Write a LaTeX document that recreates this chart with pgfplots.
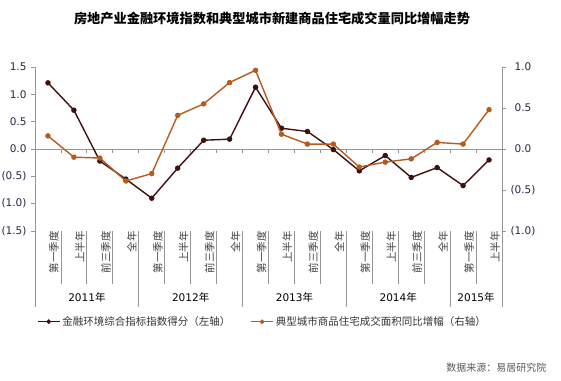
\documentclass[border=0pt]{standalone}
\usepackage{fontspec}
\setmainfont{DejaVu Sans}
\newfontfamily\cjk{Noto Sans CJK SC}
\usepackage{pgfplots}
\usepackage{pgfplotstable}
\pgfplotsset{compat=1.18}
\definecolor{darkser}{RGB}{64,16,16}
\definecolor{orangeser}{RGB}{181,91,31}
\definecolor{axgray}{RGB}{150,150,150}
\definecolor{ticklab}{RGB}{35,40,65}

\pgfplotstableread{
x a b
0 1.21 0.16
1 0.71 -0.10
2 -0.22 -0.11
3 -0.55 -0.39
4 -0.90 -0.30
5 -0.35 0.41
6 0.16 0.55
7 0.18 0.81
8 1.13 0.96
9 0.38 0.18
10 0.32 0.06
11 -0.01 0.06
12 -0.40 -0.22
13 -0.12 -0.16
14 -0.52 -0.12
15 -0.34 0.08
16 -0.67 0.06
17 -0.20 0.48
}\datatable

\tikzset{
  catlab/.style={rotate=90, anchor=east, yshift=-6pt, font=\cjk\fontsize{10.5}{12}\selectfont, text=black!75, inner sep=0pt},
  yearlab/.style={yshift=-66.7pt, font=\fontsize{10.5}{12}\selectfont, text=black, inner sep=0pt},
  sepline/.style={axgray, line width=0.8pt}
}

\begin{document}
\begin{tikzpicture}[x=1pt,y=1pt]
\useasboundingbox (0,0) rectangle (561,380);
\node[font=\cjk\bfseries\fontsize{13.2}{15}\selectfont] at (272,362) {房地产业金融环境指数和典型城市新建商品住宅成交量同比增幅走势};
\node[anchor=east, font=\cjk\fontsize{10}{12}\selectfont, text=black!65] at (550,12.5) {数据来源：易居研究院};

\begin{axis}[
  at={(35pt,149pt)}, anchor=south west,
  width=467pt, height=164pt, scale only axis,
  xmin=-0.5, xmax=17.5, ymin=-1.5, ymax=1.5,
  clip=false,
  axis y line*=left,
  axis x line*=middle,
  x axis line style={-, axgray, line width=0.8pt},
  y axis line style={-, axgray, line width=0.8pt},
  xtick={0.5,1.5,...,16.5}, xticklabels={},
  xtick align=outside,
  ytick={-1.5,-1,-0.5,0,0.5,1,1.5},
  yticklabels={(1.5),(1.0),(0.5),0.0,0.5,1.0,1.5},
  ytick align=outside,
  major tick length=4pt,
  tick style={axgray, line width=0.8pt},
  yticklabel style={font=\fontsize{10.5}{12}\selectfont, text=ticklab, anchor=east, xshift=-1pt},
]
\addplot[darkser, line width=1.4pt, mark=*, mark size=2pt, mark options={solid}] table[x=x,y=a]{\datatable};

\draw[axgray, line width=0.8pt] (axis cs:-0.5,0) -- ++(-4pt,0pt);

\node[catlab] at (axis cs:0,-1.5) {第一季度};
\node[catlab] at (axis cs:1,-1.5) {上半年};
\node[catlab] at (axis cs:2,-1.5) {前三季度};
\node[catlab] at (axis cs:3,-1.5) {全年};
\node[catlab] at (axis cs:4,-1.5) {第一季度};
\node[catlab] at (axis cs:5,-1.5) {上半年};
\node[catlab] at (axis cs:6,-1.5) {前三季度};
\node[catlab] at (axis cs:7,-1.5) {全年};
\node[catlab] at (axis cs:8,-1.5) {第一季度};
\node[catlab] at (axis cs:9,-1.5) {上半年};
\node[catlab] at (axis cs:10,-1.5) {前三季度};
\node[catlab] at (axis cs:11,-1.5) {全年};
\node[catlab] at (axis cs:12,-1.5) {第一季度};
\node[catlab] at (axis cs:13,-1.5) {上半年};
\node[catlab] at (axis cs:14,-1.5) {前三季度};
\node[catlab] at (axis cs:15,-1.5) {全年};
\node[catlab] at (axis cs:16,-1.5) {第一季度};
\node[catlab] at (axis cs:17,-1.5) {上半年};

\draw[sepline] (axis cs:0.5,-1.5) -- ++(0pt,-53pt);
\draw[sepline] (axis cs:1.5,-1.5) -- ++(0pt,-53pt);
\draw[sepline] (axis cs:2.5,-1.5) -- ++(0pt,-53pt);
\draw[sepline] (axis cs:4.5,-1.5) -- ++(0pt,-53pt);
\draw[sepline] (axis cs:5.5,-1.5) -- ++(0pt,-53pt);
\draw[sepline] (axis cs:6.5,-1.5) -- ++(0pt,-53pt);
\draw[sepline] (axis cs:8.5,-1.5) -- ++(0pt,-53pt);
\draw[sepline] (axis cs:9.5,-1.5) -- ++(0pt,-53pt);
\draw[sepline] (axis cs:10.5,-1.5) -- ++(0pt,-53pt);
\draw[sepline] (axis cs:12.5,-1.5) -- ++(0pt,-53pt);
\draw[sepline] (axis cs:13.5,-1.5) -- ++(0pt,-53pt);
\draw[sepline] (axis cs:14.5,-1.5) -- ++(0pt,-53pt);
\draw[sepline] (axis cs:16.5,-1.5) -- ++(0pt,-53pt);

\draw[sepline] (axis cs:-0.5,-1.5) -- ++(0pt,-76pt);
\draw[sepline] (axis cs:3.5,-1.5) -- ++(0pt,-76pt);
\draw[sepline] (axis cs:7.5,-1.5) -- ++(0pt,-76pt);
\draw[sepline] (axis cs:11.5,-1.5) -- ++(0pt,-76pt);
\draw[sepline] (axis cs:15.5,-1.5) -- ++(0pt,-76pt);
\draw[sepline] (axis cs:17.5,-1.5) -- ++(0pt,-76pt);

\node[yearlab] at (axis cs:1.5,-1.5) {2011{\cjk 年}};
\node[yearlab] at (axis cs:5.5,-1.5) {2012{\cjk 年}};
\node[yearlab] at (axis cs:9.5,-1.5) {2013{\cjk 年}};
\node[yearlab] at (axis cs:13.5,-1.5) {2014{\cjk 年}};
\node[yearlab] at (axis cs:16.5,-1.5) {2015{\cjk 年}};
\end{axis}

\begin{axis}[
  at={(35pt,149pt)}, anchor=south west,
  width=467pt, height=164pt, scale only axis,
  xmin=-0.5, xmax=17.5, ymin=-1, ymax=1,
  clip=false,
  axis x line=none,
  axis y line*=right,
  y axis line style={-, axgray, line width=0.8pt},
  ytick={-1,-0.5,0,0.5,1},
  yticklabels={(1.0),(0.5),\phantom{(}0.0,\phantom{(}0.5,\phantom{(}1.0},
  ytick align=outside,
  major tick length=4pt,
  tick style={axgray, line width=0.8pt},
  yticklabel style={font=\fontsize{10.5}{12}\selectfont, text=ticklab, anchor=west, xshift=1pt},
  legend columns=2,
  legend style={at={(axis description cs:0.004,-0.553)}, anchor=west, draw=none, fill=none,
    font=\cjk\fontsize{10.5}{12}\selectfont, text=black!80,
    /tikz/every even column/.append style={column sep=18pt},
    inner sep=0pt, row sep=0pt},
  legend cell align=left,
  legend image code/.code={\draw[#1, mark repeat=2, mark phase=2, line width=1.4pt, mark size=1.5pt] plot coordinates {(0pt,0pt) (11pt,0pt) (22pt,0pt)};},
]
\draw[axgray, line width=0.8pt] (axis cs:17.5,0) -- ++(4pt,0pt);
\addlegendimage{darkser, mark=*, mark options={solid}}
\addlegendentry{金融环境综合指标指数得分（左轴）}
\addplot[orangeser, line width=1.4pt, mark=*, mark size=2pt, mark options={solid}] table[x=x,y=b]{\datatable};
\addlegendentry{典型城市商品住宅成交面积同比增幅（右轴）}
\end{axis}
\end{tikzpicture}
\end{document}
